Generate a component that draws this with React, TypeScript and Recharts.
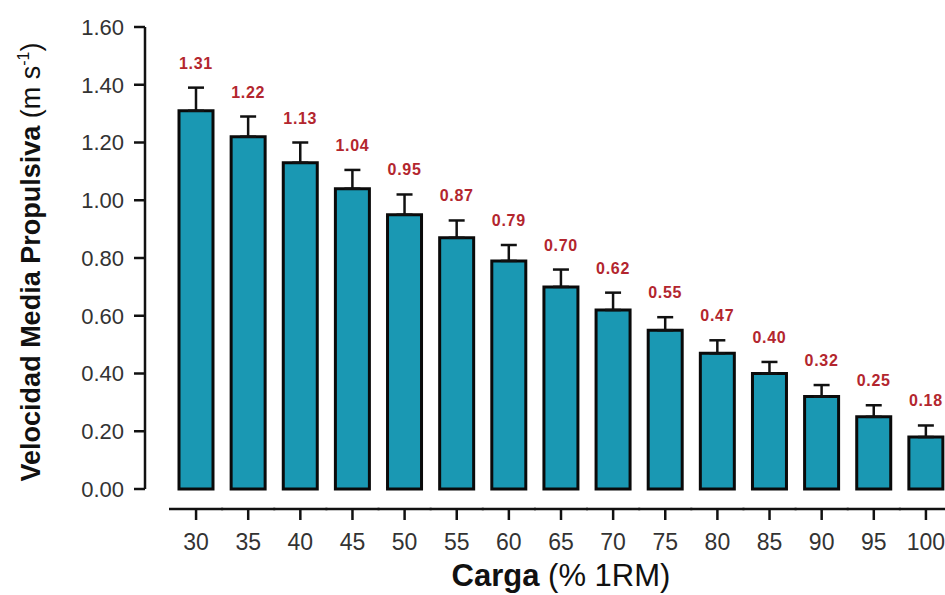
import { Bar, BarChart, ErrorBar, LabelList, XAxis, YAxis } from 'recharts';

const loads = [30, 35, 40, 45, 50, 55, 60, 65, 70, 75, 80, 85, 90, 95, 100];
const velocity = [1.31, 1.22, 1.13, 1.04, 0.95, 0.87, 0.79, 0.7, 0.62, 0.55, 0.47, 0.4, 0.32, 0.25, 0.18];
const sdUp = [0.08, 0.07, 0.07, 0.065, 0.07, 0.06, 0.055, 0.06, 0.06, 0.045, 0.045, 0.04, 0.04, 0.04, 0.04];
const yTicks = [0, 0.2, 0.4, 0.6, 0.8, 1.0, 1.2, 1.4, 1.6];

const rows = loads.map((load, i) => ({
  load,
  velocity: velocity[i],
  err: [0, sdUp[i]],
}));

const FONT = '"Liberation Sans", Arial, Helvetica, sans-serif';
const INK = '#111';

function LoadTick(props: any) {
  const { x, y, payload } = props;
  const half = payload.offset ?? 26;
  return (
    <g>
      <line x1={x - half - 1} x2={x + half + 1} y1={y + 20} y2={y + 20} stroke={INK} strokeWidth={2.5} />
      <line x1={x} x2={x} y1={y + 20} y2={y + 31} stroke={INK} strokeWidth={2.5} />
      <text x={x} y={y + 61} textAnchor="middle" fontSize={23} fill="#333" fontFamily={FONT}>
        {payload.value}
      </text>
    </g>
  );
}

function renderValue(props: any) {
  const { x, y, width, height, value, index } = props;
  const i = index ?? velocity.indexOf(value);
  const perUnit = height / value;
  const top = y - sdUp[i] * perUnit;
  return (
    <text
      x={x + width / 2}
      y={top - 19}
      textAnchor="middle"
      fill="#b3262e"
      fontSize={16}
      fontWeight="bold"
      letterSpacing={0.7}
      fontFamily={FONT}
    >
      {Number(value).toFixed(2)}
    </text>
  );
}

function YTitle(props: any) {
  const { viewBox } = props;
  const cx = 40;
  const cy = viewBox.y + viewBox.height / 2 + 4;
  return (
    <text
      x={cx}
      y={cy}
      transform={`rotate(-90 ${cx} ${cy})`}
      textAnchor="middle"
      fontSize={27}
      fill={INK}
      fontFamily={FONT}
    >
      <tspan fontWeight="bold">Velocidad Media Propulsiva </tspan>
      <tspan>(m s</tspan>
      <tspan dy={-11} fontSize={16}>-1</tspan>
      <tspan dy={11}>)</tspan>
    </text>
  );
}

function XTitle(props: any) {
  const { viewBox } = props;
  const cx = viewBox.x + 25 + (viewBox.width - 25) / 2;
  return (
    <text x={cx} y={viewBox.y + 97} textAnchor="middle" fontSize={31} fill={INK} fontFamily={FONT}>
      <tspan fontWeight="bold">Carga</tspan>
      <tspan> (% 1RM)</tspan>
    </text>
  );
}

export default function App() {
  return (
    <div
      style={{
        position: 'absolute',
        left: 0,
        top: 0,
        width: 945,
        height: 595,
        overflow: 'hidden',
        background: '#fff',
      }}
    >
      <BarChart width={960} height={595} data={rows} margin={{ top: 27, right: 8, bottom: 0, left: 0 }}>
        <XAxis
          dataKey="load"
          height={106}
          padding={{ left: 25, right: 0 }}
          axisLine={false}
          tickLine={false}
          tickSize={0}
          tickMargin={0}
          interval={0}
          tick={<LoadTick />}
          label={<XTitle />}
        />
        <YAxis
          width={145}
          domain={[0, 1.6]}
          ticks={yTicks}
          interval={0}
          tickFormatter={(v: number) => v.toFixed(2)}
          tickSize={11}
          tickMargin={10}
          axisLine={{ stroke: INK, strokeWidth: 2.5 }}
          tickLine={{ stroke: INK, strokeWidth: 2.5 }}
          tick={{ fontSize: 22, fill: '#333', fontFamily: FONT }}
          label={<YTitle />}
        />
        <Bar
          dataKey="velocity"
          fill="#1a98b3"
          stroke="#0a0a0a"
          strokeWidth={3}
          barSize={34}
          isAnimationActive={false}
        >
          <ErrorBar
            dataKey="err"
            direction="y"
            width={8}
            stroke={INK}
            strokeWidth={2.5}
            isAnimationActive={false}
          />
          <LabelList dataKey="velocity" content={renderValue} />
        </Bar>
      </BarChart>
    </div>
  );
}
